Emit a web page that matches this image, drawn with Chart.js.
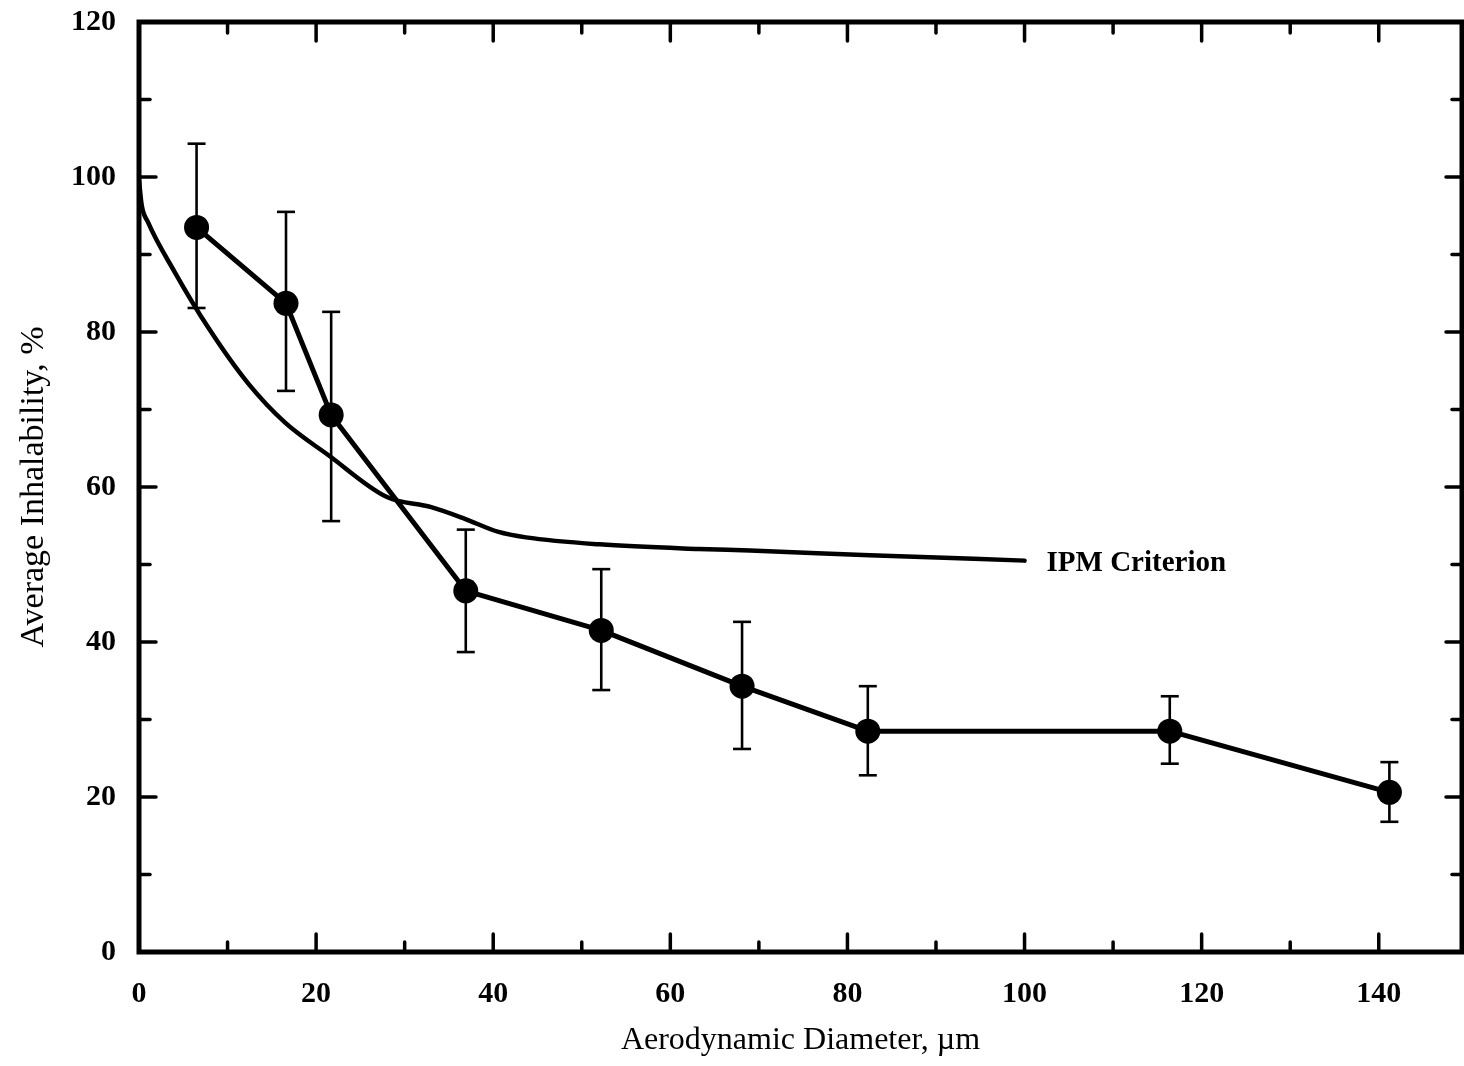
<!DOCTYPE html>
<html>
<head>
<meta charset="utf-8">
<script src="https://cdn.jsdelivr.net/npm/chart.js@4.4.0/dist/chart.umd.min.js"></script>
<style>
  html, body { margin: 0; padding: 0; background: #ffffff; }
  #wrap { width: 1464px; height: 1066px; }
</style>
</head>
<body>
<div id="wrap"><canvas id="c" width="1464" height="1066"></canvas></div>
<script>
// ---- data ----
const measDiameter = [6.5, 16.6, 21.7, 36.9, 52.2, 68.1, 82.3, 116.4, 141.2];
const measInhal    = [93.5, 83.7, 69.3, 46.6, 41.5, 34.3, 28.5, 28.5, 20.6];
const measHigh     = [104.3, 95.5, 82.6, 54.5, 49.4, 42.6, 34.3, 33.0, 24.5];
const measLow      = [83.1, 72.4, 55.6, 38.7, 33.8, 26.2, 22.8, 24.3, 16.8];

const ipmDiameter = [0, 0.3, 1.0, 4.0, 7.8, 12.3, 16.5, 21.4, 28.0, 33.0, 36.8, 40.6, 43.7, 52.0, 63.2, 69.0, 82.5, 100];
const ipmInhal    = [99.6, 96.4, 94.2, 87.8, 80.6, 73.4, 68.3, 64.1, 58.7, 57.4, 55.9, 54.2, 53.5, 52.6, 52.0, 51.8, 51.2, 50.5];
const ipmLabel = "IPM Criterion";

const xMajorTicks = [0, 20, 40, 60, 80, 100, 120, 140];
const xMinorTicks = [10, 30, 50, 70, 90, 110, 130];
const yMajorTicks = [0, 20, 40, 60, 80, 100, 120];
const yMinorTicks = [10, 30, 50, 70, 90, 110];

const xTitle = "Aerodynamic Diameter, \u00b5m";
const yTitle = "Average Inhalability, %";

const SERIF = "'Liberation Serif', 'DejaVu Serif', serif";

const zeroPad = s => { s.paddingLeft = 0; s.paddingRight = 0; s.paddingTop = 0; s.paddingBottom = 0; };

const frameAndTicks = {
  id: 'frameAndTicks',
  afterDatasetsDraw(chart) {
    const {ctx, chartArea: a, scales: {x, y}} = chart;
    ctx.save();
    ctx.strokeStyle = '#000';
    ctx.lineCap = 'round';
    ctx.lineWidth = 3.5;
    const tick = (x1, y1, x2, y2) => { ctx.beginPath(); ctx.moveTo(x1, y1); ctx.lineTo(x2, y2); ctx.stroke(); };
    xMajorTicks.forEach(v => { if (v === 0) return; const px = x.getPixelForValue(v); tick(px, a.bottom, px, a.bottom - 18); tick(px, a.top, px, a.top + 19); });
    xMinorTicks.forEach(v => { const px = x.getPixelForValue(v); tick(px, a.bottom, px, a.bottom - 10); tick(px, a.top, px, a.top + 11); });
    yMajorTicks.forEach(v => { if (v === 0 || v === 120) return; const py = y.getPixelForValue(v); tick(a.left, py, a.left + 17, py); tick(a.right, py, a.right - 16, py); });
    yMinorTicks.forEach(v => { const py = y.getPixelForValue(v); tick(a.left, py, a.left + 11, py); tick(a.right, py, a.right - 10, py); });
    ctx.lineWidth = 5;
    ctx.lineCap = 'square';
    ctx.strokeRect(a.left, a.top, a.right - a.left, a.bottom - a.top);

    // error bars for measured series
    ctx.lineWidth = 2.6;
    ctx.lineCap = 'butt';
    measDiameter.forEach((d, i) => {
      const px = x.getPixelForValue(d);
      const pHi = y.getPixelForValue(measHigh[i]);
      const pLo = y.getPixelForValue(measLow[i]);
      tick(px, pHi, px, pLo);
      tick(px - 9, pHi, px + 9, pHi);
      tick(px - 9, pLo, px + 9, pLo);
    });

    // IPM label at the end of the criterion curve
    const last = ipmDiameter.length - 1;
    const lx = x.getPixelForValue(ipmDiameter[last]) + 22;
    const ly = y.getPixelForValue(ipmInhal[last]);
    ctx.fillStyle = '#000';
    ctx.font = 'bold 29px ' + SERIF;
    ctx.textAlign = 'left';
    ctx.textBaseline = 'middle';
    ctx.fillText(ipmLabel, lx, ly + 3);
    ctx.restore();
  }
};

new Chart(document.getElementById('c'), {
  type: 'scatter',
  data: {
    datasets: [
      {
        label: 'IPM Criterion',
        data: ipmDiameter.map((d, i) => ({x: d, y: ipmInhal[i]})),
        showLine: true,
        borderColor: '#000',
        borderWidth: 4.5,
        pointRadius: 0,
        cubicInterpolationMode: 'monotone',
        borderCapStyle: 'round',
        borderJoinStyle: 'round'
      },
      {
        label: 'Measured',
        data: measDiameter.map((d, i) => ({x: d, y: measInhal[i]})),
        showLine: true,
        borderColor: '#000',
        borderWidth: 5,
        tension: 0,
        pointRadius: 12.5,
        pointBackgroundColor: '#000',
        pointBorderColor: '#000',
        pointBorderWidth: 0,
        borderJoinStyle: 'round'
      }
    ]
  },
  options: {
    responsive: false,
    animation: false,
    layout: { autoPadding: false, padding: { left: 14, right: 2, top: 22, bottom: 6 } },
    plugins: { legend: { display: false }, tooltip: { enabled: false } },
    scales: {
      x: {
        type: 'linear', min: 0, max: 149.4,
        afterBuildTicks: s => { s.ticks = xMajorTicks.map(v => ({value: v})); },
        afterFit: s => { s.height = 108; zeroPad(s); },
        grid: { display: false, drawTicks: false },
        border: { display: false },
        ticks: { color: '#000', padding: 24, font: { family: SERIF, size: 30, weight: 'bold' } },
        title: { display: true, text: xTitle, color: '#000', padding: 0, font: { family: SERIF, size: 32 } }
      },
      y: {
        type: 'linear', min: 0, max: 120,
        afterBuildTicks: s => { s.ticks = yMajorTicks.map(v => ({value: v})); },
        afterFit: s => { s.width = 125; zeroPad(s); },
        grid: { display: false, drawTicks: false },
        border: { display: false },
        ticks: { color: '#000', padding: 23, font: { family: SERIF, size: 30, weight: 'bold' } },
        title: { display: true, text: yTitle, color: '#000', padding: 0, font: { family: SERIF, size: 34 } }
      }
    }
  },
  plugins: [frameAndTicks]
});
</script>
</body>
</html>
